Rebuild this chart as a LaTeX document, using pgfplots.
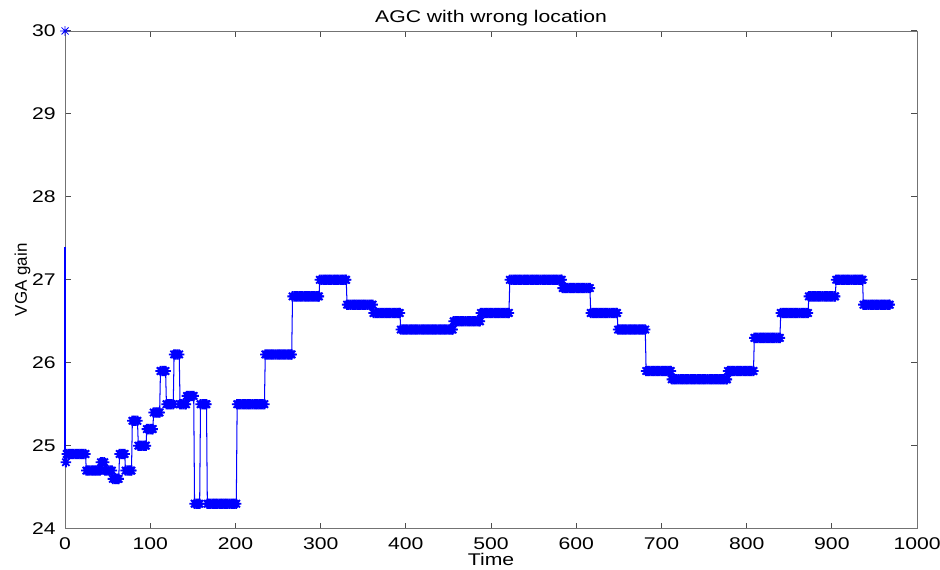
\documentclass[border=0pt]{standalone}
\usepackage{fontspec}
\setmainfont{Liberation Sans}[FakeStretch=1.25]
\newfontfamily\ylabfont{Liberation Sans}
\usepackage{pgfplots}
\pgfplotsset{compat=1.18}

% matlab style '*' marker: plus and cross together
\pgfdeclareplotmark{mstar}{%
  \pgfpathmoveto{\pgfqpoint{-\pgfplotmarksize}{0pt}}\pgfpathlineto{\pgfqpoint{\pgfplotmarksize}{0pt}}%
  \pgfpathmoveto{\pgfqpoint{0pt}{-\pgfplotmarksize}}\pgfpathlineto{\pgfqpoint{0pt}{\pgfplotmarksize}}%
  \pgfpathmoveto{\pgfqpoint{-0.707\pgfplotmarksize}{-0.707\pgfplotmarksize}}\pgfpathlineto{\pgfqpoint{0.707\pgfplotmarksize}{0.707\pgfplotmarksize}}%
  \pgfpathmoveto{\pgfqpoint{-0.707\pgfplotmarksize}{0.707\pgfplotmarksize}}\pgfpathlineto{\pgfqpoint{0.707\pgfplotmarksize}{-0.707\pgfplotmarksize}}%
  \pgfusepathqstroke}

\begin{document}
\begin{tikzpicture}
\begin{axis}[
    scale only axis,
    width=412.6pt, height=241pt,
    xmin=0, xmax=1000, ymin=24, ymax=30,
    xtick={0,100,...,1000},
    ytick={24,25,...,30},
    tick align=inside,
    major tick length=2.9pt,
    axis line style={black!55},
    tick style={black!70, line width=0.5pt},
    font=\fontsize{8.2}{9.5}\selectfont,
    /pgf/number format/assume math mode=true,
    /pgf/number format/1000 sep={},
    title={AGC with wrong location},
    title style={yshift=-7pt},
    xlabel={Time},
    xlabel style={yshift=5.5pt},
    xticklabel style={yshift=-1pt},
    ylabel={\ylabfont VGA gain},
    ylabel style={yshift=-6pt},
    yticklabel style={xshift=-1pt},
    clip=false,
]
\addplot[color=blue, only marks, mark=mstar, mark size=2.4pt, mark options={line width=0.4pt}]
  coordinates {(0,30)};
\addplot[color=blue, line width=0.6pt, no markers]
  coordinates {(0,27.4) (0,24.8) (1,24.8)};
\addplot[color=blue, line width=0.5pt, mark=mstar, mark size=2.5pt, mark options={line width=0.9pt}]
  coordinates {
  (1,24.8)
  (2,24.9)(4,24.9)(6,24.9)(8,24.9)(10,24.9)(12,24.9)(14,24.9)(16,24.9)(18,24.9)(20,24.9)(22,24.9)(24,24.9)
  (25,24.7)(27,24.7)(29,24.7)(31,24.7)(33,24.7)(35,24.7)(37,24.7)(39,24.7)(41,24.7)
  (42,24.8)(44,24.8)(46,24.8)
  (47,24.7)(49,24.7)(51,24.7)(53,24.7)(55,24.7)
  (56,24.6)(58,24.6)(60,24.6)(62,24.6)(63,24.6)
  (64,24.9)(66,24.9)(68,24.9)(70,24.9)
  (71,24.7)(73,24.7)(75,24.7)(77,24.7)(78,24.7)
  (79,25.3)(81,25.3)(83,25.3)(85,25.3)
  (86,25.0)(88,25.0)(90,25.0)(92,25.0)(94,25.0)(95,25.0)
  (96,25.2)(98,25.2)(100,25.2)(102,25.2)(103,25.2)
  (104,25.4)(106,25.4)(108,25.4)(110,25.4)(111,25.4)
  (112,25.9)(114,25.9)(116,25.9)(118,25.9)
  (119,25.5)(121,25.5)(123,25.5)(125,25.5)(127,25.5)
  (128,26.1)(130,26.1)(132,26.1)(134,26.1)
  (135,25.5)(137,25.5)(139,25.5)(141,25.5)(142,25.5)
  (143,25.6)(145,25.6)(147,25.6)(149,25.6)(151,25.6)
  (152,24.3)(154,24.3)(156,24.3)(158,24.3)
  (159,25.5)(161,25.5)(163,25.5)(165,25.5)(166,25.5)
  (167,24.3)(169,24.3)(171,24.3)(173,24.3)(175,24.3)(177,24.3)(179,24.3)(181,24.3)(183,24.3)
  (185,24.3)(187,24.3)(189,24.3)(191,24.3)(193,24.3)(195,24.3)(197,24.3)(199,24.3)(201,24.3)
  (202,25.5)(204,25.5)(206,25.5)(208,25.5)(210,25.5)(212,25.5)(214,25.5)(216,25.5)(218,25.5)
  (220,25.5)(222,25.5)(224,25.5)(226,25.5)(228,25.5)(230,25.5)(232,25.5)(234,25.5)
  (235,26.1)(237,26.1)(239,26.1)(241,26.1)(243,26.1)(245,26.1)(247,26.1)(249,26.1)(251,26.1)
  (253,26.1)(255,26.1)(257,26.1)(259,26.1)(261,26.1)(263,26.1)(265,26.1)(266,26.1)
  (267,26.8)(269,26.8)(271,26.8)(273,26.8)(275,26.8)(277,26.8)(279,26.8)(281,26.8)(283,26.8)
  (285,26.8)(287,26.8)(289,26.8)(291,26.8)(293,26.8)(295,26.8)(297,26.8)(298,26.8)
  (299,27.0)(301,27.0)(303,27.0)(305,27.0)(307,27.0)(309,27.0)(311,27.0)(313,27.0)(315,27.0)
  (317,27.0)(319,27.0)(321,27.0)(323,27.0)(325,27.0)(327,27.0)(329,27.0)(330,27.0)
  (331,26.7)(333,26.7)(335,26.7)(337,26.7)(339,26.7)(341,26.7)(343,26.7)(345,26.7)
  (347,26.7)(349,26.7)(351,26.7)(353,26.7)(355,26.7)(357,26.7)(359,26.7)(361,26.7)
  (362,26.6)(364,26.6)(366,26.6)(368,26.6)(370,26.6)(372,26.6)(374,26.6)(376,26.6)(378,26.6)
  (380,26.6)(382,26.6)(384,26.6)(386,26.6)(388,26.6)(390,26.6)(392,26.6)(393,26.6)
  (394,26.4)(396,26.4)(398,26.4)(400,26.4)(402,26.4)(404,26.4)(406,26.4)(408,26.4)(410,26.4)
  (412,26.4)(414,26.4)(416,26.4)(418,26.4)(420,26.4)(422,26.4)(424,26.4)(426,26.4)(428,26.4)
  (430,26.4)(432,26.4)(434,26.4)(436,26.4)(438,26.4)(440,26.4)(442,26.4)(444,26.4)(446,26.4)
  (448,26.4)(450,26.4)(452,26.4)(454,26.4)(455,26.4)
  (456,26.5)(458,26.5)(460,26.5)(462,26.5)(464,26.5)(466,26.5)(468,26.5)(470,26.5)(472,26.5)
  (474,26.5)(476,26.5)(478,26.5)(480,26.5)(482,26.5)(484,26.5)(486,26.5)(487,26.5)
  (488,26.6)(490,26.6)(492,26.6)(494,26.6)(496,26.6)(498,26.6)(500,26.6)(502,26.6)(504,26.6)
  (506,26.6)(508,26.6)(510,26.6)(512,26.6)(514,26.6)(516,26.6)(518,26.6)(520,26.6)(521,26.6)
  (522,27.0)(524,27.0)(526,27.0)(528,27.0)(530,27.0)(532,27.0)(534,27.0)(536,27.0)(538,27.0)
  (540,27.0)(542,27.0)(544,27.0)(546,27.0)(548,27.0)(550,27.0)(552,27.0)(554,27.0)(556,27.0)
  (558,27.0)(560,27.0)(562,27.0)(564,27.0)(566,27.0)(568,27.0)(570,27.0)(572,27.0)(574,27.0)
  (576,27.0)(578,27.0)(580,27.0)(582,27.0)(583,27.0)
  (584,26.9)(586,26.9)(588,26.9)(590,26.9)(592,26.9)(594,26.9)(596,26.9)(598,26.9)(600,26.9)
  (602,26.9)(604,26.9)(606,26.9)(608,26.9)(610,26.9)(612,26.9)(614,26.9)(616,26.9)
  (617,26.6)(619,26.6)(621,26.6)(623,26.6)(625,26.6)(627,26.6)(629,26.6)(631,26.6)(633,26.6)
  (635,26.6)(637,26.6)(639,26.6)(641,26.6)(643,26.6)(645,26.6)(647,26.6)(648,26.6)
  (649,26.4)(651,26.4)(653,26.4)(655,26.4)(657,26.4)(659,26.4)(661,26.4)(663,26.4)(665,26.4)
  (667,26.4)(669,26.4)(671,26.4)(673,26.4)(675,26.4)(677,26.4)(679,26.4)(681,26.4)
  (682,25.9)(684,25.9)(686,25.9)(688,25.9)(690,25.9)(692,25.9)(694,25.9)(696,25.9)
  (698,25.9)(700,25.9)(702,25.9)(704,25.9)(706,25.9)(708,25.9)(710,25.9)(711,25.9)
  (712,25.8)(714,25.8)(716,25.8)(718,25.8)(720,25.8)(722,25.8)(724,25.8)(726,25.8)(728,25.8)
  (730,25.8)(732,25.8)(734,25.8)(736,25.8)(738,25.8)(740,25.8)(742,25.8)(744,25.8)(746,25.8)
  (748,25.8)(750,25.8)(752,25.8)(754,25.8)(756,25.8)(758,25.8)(760,25.8)(762,25.8)(764,25.8)
  (766,25.8)(768,25.8)(770,25.8)(772,25.8)(774,25.8)(776,25.8)(777,25.8)
  (778,25.9)(780,25.9)(782,25.9)(784,25.9)(786,25.9)(788,25.9)(790,25.9)(792,25.9)
  (794,25.9)(796,25.9)(798,25.9)(800,25.9)(802,25.9)(804,25.9)(806,25.9)(808,25.9)
  (809,26.3)(811,26.3)(813,26.3)(815,26.3)(817,26.3)(819,26.3)(821,26.3)(823,26.3)
  (825,26.3)(827,26.3)(829,26.3)(831,26.3)(833,26.3)(835,26.3)(837,26.3)(839,26.3)
  (840,26.6)(842,26.6)(844,26.6)(846,26.6)(848,26.6)(850,26.6)(852,26.6)(854,26.6)(856,26.6)
  (858,26.6)(860,26.6)(862,26.6)(864,26.6)(866,26.6)(868,26.6)(870,26.6)(872,26.6)
  (873,26.8)(875,26.8)(877,26.8)(879,26.8)(881,26.8)(883,26.8)(885,26.8)(887,26.8)(889,26.8)
  (891,26.8)(893,26.8)(895,26.8)(897,26.8)(899,26.8)(901,26.8)(903,26.8)(904,26.8)
  (905,27.0)(907,27.0)(909,27.0)(911,27.0)(913,27.0)(915,27.0)(917,27.0)(919,27.0)(921,27.0)
  (923,27.0)(925,27.0)(927,27.0)(929,27.0)(931,27.0)(933,27.0)(935,27.0)(936,27.0)
  (937,26.7)(939,26.7)(941,26.7)(943,26.7)(945,26.7)(947,26.7)(949,26.7)(951,26.7)(953,26.7)
  (955,26.7)(957,26.7)(959,26.7)(961,26.7)(963,26.7)(965,26.7)(967,26.7)(968,26.7)
  };
\end{axis}
\pgfresetboundingbox
\path ([xshift=-31.5pt,yshift=-19.6pt]current axis.south west)
  rectangle ([xshift=11.1pt,yshift=15pt]current axis.north east);
\end{tikzpicture}
\end{document}
